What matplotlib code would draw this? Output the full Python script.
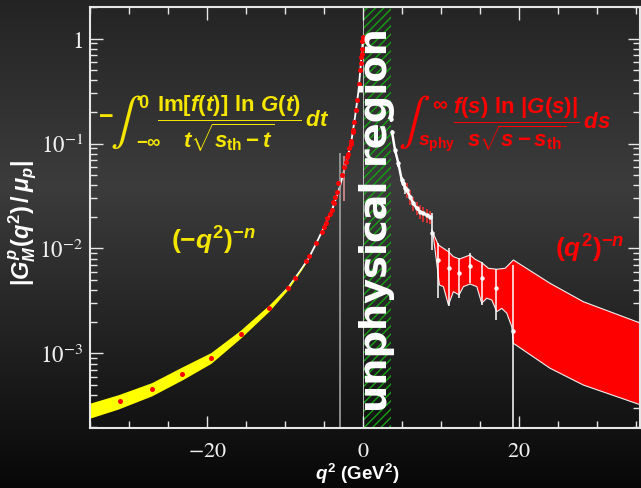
import numpy as np
import matplotlib
matplotlib.use('Agg')
import matplotlib.pyplot as plt

plt.rcParams['mathtext.fontset'] = 'custom'
plt.rcParams['mathtext.rm'] = 'Liberation Sans:bold'
plt.rcParams['mathtext.it'] = 'Liberation Sans:bold:italic'
plt.rcParams['mathtext.bf'] = 'Liberation Sans:bold'
plt.rcParams['mathtext.sf'] = 'Liberation Sans:bold'
plt.rcParams['font.family'] = 'Liberation Sans'
plt.rcParams['hatch.linewidth'] = 1.0

# ---------------- data ----------------
# spacelike fit curve (white line)
fit_q2 = [-35, -31.4, -27.1, -23.2, -19.5, -15.7, -12, -9.6, -8, -7, -6, -5, -4, -3,
          -2.5, -2, -1.5, -1, -0.6, -0.3, 0]
fit_G = [2.85e-4, 3.45e-4, 4.56e-4, 6.45e-4, 9.06e-4, 1.53e-3, 2.73e-3, 4.23e-3, 6.2e-3,
         8.0e-3, 1.12e-2, 1.6e-2, 2.3e-2, 3.8e-2, 5.3e-2, 7.3e-2, 0.105, 0.185, 0.31, 0.55, 1.0]

# spacelike yellow uncertainty band
yb_q2 = [-35, -31.4, -27.1, -23.2, -19.5, -15.7, -12, -9.6, -8, -7]
yb_hi = [3.36e-4, 4.04e-4, 5.27e-4, 7.44e-4, 1.02e-3, 1.67e-3, 2.92e-3, 4.37e-3, 6.29e-3, 8.0e-3]
yb_lo = [2.42e-4, 2.95e-4, 3.94e-4, 5.59e-4, 8.04e-4, 1.40e-3, 2.55e-3, 4.09e-3, 6.11e-3, 8.0e-3]

# spacelike data (red points)
sl_q2 = [-31.2, -27.0, -23.2, -19.5, -15.7, -12.0, -9.6, -8.76, -7.26, -6.97, -5.98, -5.3,
         -5.0, -4.74, -4.65, -4.23, -4.0, -3.81, -3.7, -3.59, -3.38, -3.17, -2.73, -2.44,
         -2.22, -2.09, -1.96, -1.76, -1.58, -1.54, -1.32, -1.24, -1.15, -0.94, -0.77,
         -0.55, -0.38, -0.3, -0.21, -0.17, -0.12, -0.08, -0.05, -0.02]
sl_G = [3.53e-4, 4.62e-4, 6.43e-4, 9.06e-4, 1.53e-3, 2.73e-3, 4.23e-3, 5.27e-3, 7.55e-3,
        8.49e-3, 1.13e-2, 1.43e-2, 1.61e-2, 1.74e-2, 1.94e-2, 2.15e-2, 2.33e-2, 2.79e-2,
        2.71e-2, 3.1e-2, 3.47e-2, 4.18e-2, 5.0e-2, 6.0e-2, 6.6e-2, 7.5e-2, 8.0e-2, 9.0e-2,
        0.105, 0.1, 0.13, 0.135, 0.16, 0.21, 0.26, 0.37, 0.5, 0.58, 0.67, 0.72, 0.8, 0.95,
        0.98, 1.03]

# large-error spacelike points (vertical bars)
eb_q2 = [-2.95, -2.44]
eb_lo = [1.0e-4, 0.0283]
eb_hi = [0.0817, 0.0763]

# timelike data (white points)
tl_q2 = [3.56, 3.72, 4.1, 4.53, 4.96, 5.18, 5.38, 5.6, 6.03, 6.45, 6.88, 7.31, 7.73, 8.17,
         8.59, 8.88, 9.65, 10.96, 12.31, 13.76, 15.26, 17.09, 19.19]
tl_G = [0.17, 0.128, 0.0867, 0.0647, 0.0449, 0.0418, 0.0374, 0.036, 0.0311, 0.0269, 0.0241,
        0.0224, 0.0216, 0.0208, 0.0201, 0.014, 7.77e-3, 6.48e-3, 5.8e-3, 6.81e-3, 5.24e-3,
        4.18e-3, 1.65e-3]
tl_hi = [0.18, 0.135, 0.092, 0.069, 0.048, 0.045, 0.042, 0.042, 0.036, 0.031, 0.028, 0.026,
         0.025, 0.024, 0.023, 0.0217, 0.0112, 0.0100, 8.07e-3, 9.0e-3, 7.48e-3, 6.34e-3, 6.97e-3]
tl_lo = [0.16, 0.121, 0.081, 0.060, 0.042, 0.039, 0.033, 0.030, 0.026, 0.023, 0.021, 0.019,
         0.018, 0.0175, 0.017, 0.0097, 3.35e-3, 2.83e-3, 3.35e-3, 4.72e-3, 2.9e-3, 2.08e-3, 1.0e-4]

# timelike red band
rb_up_q2 = [8.81, 9.66, 10.94, 11.58, 12.35, 13.72, 14.36, 15.21, 16.07, 17.14, 18.21, 19.27,
            23.97, 28.24, 35.6]
rb_up_G = [0.0150, 0.0108, 9.33e-3, 8.36e-3, 7.94e-3, 8.67e-3, 7.89e-3, 7.33e-3, 6.48e-3,
           6.34e-3, 6.48e-3, 7.77e-3, 4.66e-3, 3.11e-3, 1.94e-3]
rb_lo_q2 = [8.81, 9.02, 9.79, 10.3, 10.94, 11.58, 12.31, 12.86, 13.72, 14.58, 15.21, 15.86,
            16.5, 17.14, 17.78, 18.42, 19.06, 19.27, 23.97, 28.24, 35.6]
rb_lo_G = [0.0150, 0.01295, 4.49e-3, 4.33e-3, 2.9e-3, 3.88e-3, 3.61e-3, 4.33e-3, 4.59e-3,
           4.33e-3, 3.01e-3, 3.36e-3, 3.23e-3, 2.5e-3, 2.69e-3, 2.42e-3, 1.8e-3, 1.25e-3,
           7.23e-4, 5.0e-4, 3.23e-4]

unphys = [0.0, 3.52]

xticks = [-20, 0, 20]
xticklabels = [r'$-20$', r'$0$', r'$20$']
yticks = [1e-3, 1e-2, 1e-1, 1]
yticklabels = [r'$10^{-3}$', r'$10^{-2}$', r'$10^{-1}$', r'$1$']

# ---------------- figure ----------------
W, H = 641, 488
fig = plt.figure(figsize=(W / 100, H / 100), dpi=100)


def fpos(px, py):
    return px / W, 1 - py / H


# background gradient
bg = fig.add_axes([0, 0, 1, 1], zorder=-10)
yy = np.linspace(0, 1, 400)  # 0 top -> 1 bottom
prof = np.interp(yy, [0.0, 0.38, 1.0], [0.14, 0.235, 0.03])
img = np.repeat(prof[:, None], 2, axis=1)
bg.imshow(np.dstack([img, img, img]), aspect='auto', extent=[0, 1, 0, 1],
          interpolation='bilinear')
bg.axis('off')

ax_l, ax_r = 90 / W, 640 / W
ax_b, ax_t = 1 - 427.5 / H, 1 - 7 / H
ax = fig.add_axes([ax_l, ax_b, ax_r - ax_l, ax_t - ax_b])
ax.set_facecolor('none')
ax.set_yscale('log')
ax.set_xlim(-35, 35.5)
ax.set_ylim(1.97e-4, 2.0)

# unphysical region
ax.axvspan(unphys[0], unphys[1], facecolor='none', edgecolor='#13a313', hatch='////',
           linewidth=0, zorder=1)
ax.axvline(0, color='#cfcfcf', lw=0.6, zorder=1.5)

# fit (under the band) and yellow band
ax.plot(fit_q2, fit_G, color='white', lw=1.3, zorder=2)
ax.fill_between(yb_q2, yb_lo, yb_hi, color='#ffff00', lw=0, zorder=2.1)

# big error bars
ax.vlines(eb_q2[0], eb_lo[0], eb_hi[0], color='#a0a0a0', lw=1.2, zorder=2.5)
ax.vlines(eb_q2[1], eb_lo[1], eb_hi[1], color='#d89090', lw=1.2, zorder=2.5)

# red spacelike points
ax.plot(sl_q2, sl_G, 'o', color='#ff0000', ms=3.6, mec='none', zorder=4)

# red timelike band
poly_x = list(rb_up_q2) + list(rb_lo_q2[::-1])
poly_y = list(rb_up_G) + list(rb_lo_G[::-1])
ax.fill(poly_x, poly_y, color='#ff0000', lw=0, zorder=2)
ax.plot(rb_up_q2, rb_up_G, color='#f0f0f0', lw=0.8, zorder=2.2)
ax.plot(rb_lo_q2, rb_lo_G, color='#f0f0f0', lw=0.8, zorder=2.2)

# timelike points
tl_q2a = np.array(tl_q2)
tl_Ga = np.array(tl_G)
for q, g, lo, hi in zip(tl_q2, tl_G, tl_lo, tl_hi):
    c = '#ff3030' if 5.5 < q < 8.7 else 'white'
    ax.vlines(q, lo, hi, color=c, lw=1.1, zorder=3)
sel = (tl_q2a > 3.6) & (tl_q2a < 8.7)
ax.plot(tl_q2a[sel], tl_Ga[sel], color='white', lw=1.8, zorder=3.5)
ax.plot(tl_q2, tl_G, 'o', color='white', ms=3.2, mec='none', zorder=4)

# spines and ticks
for s in ax.spines.values():
    s.set_color('#e6e6e6')
    s.set_linewidth(1.5)
ax.tick_params(which='both', direction='in', colors='#e6e6e6', top=True, right=True,
               width=1.0)
ax.tick_params(which='major', length=9)
ax.tick_params(which='minor', length=5)
ax.set_xticks(xticks)
ax.set_xticklabels(xticklabels, math_fontfamily='stix', fontsize=16, color='#f0f0f0')
ax.set_xticks(np.arange(-35, 36, 5), minor=True)
ax.set_yticks(yticks)
ax.set_yticklabels(yticklabels, math_fontfamily='stix', fontsize=16.5, color='#f0f0f0')
ax.yaxis.set_minor_locator(matplotlib.ticker.LogLocator(base=10, subs=np.arange(2, 10)))
ax.yaxis.set_minor_formatter(matplotlib.ticker.NullFormatter())
ax.tick_params(axis='x', which='major', pad=10)
ax.tick_params(axis='y', which='major', pad=5)

# ---- formula annotations ----
yel = '#f5e600'
red = '#ff0000'
# yellow: spacelike dispersion integral
fig.text(*fpos(106, 115), r'$-$', ha='center', va='center', color=yel, fontsize=18)
fig.text(*fpos(126, 122), r'$\int$', ha='center', va='center', color=yel, fontsize=34,
         math_fontfamily='stix')
fig.text(*fpos(144, 103), r'$0$', ha='center', va='center', color=yel, fontsize=13)
fig.text(*fpos(149, 142), r'$-\infty$', ha='center', va='center', color=yel, fontsize=13.5)
fig.text(*fpos(157, 124),
         r'$\dfrac{\mathrm{Im}[f(t)]\ \ln\,G(t)}{t\sqrt{s_{\mathrm{th}}-t}}\,dt$',
         ha='left', va='center', color=yel, fontsize=16)
# red: timelike dispersion integral
fig.text(*fpos(414, 122), r'$\int$', ha='center', va='center', color=red, fontsize=34,
         math_fontfamily='stix')
fig.text(*fpos(440, 104), r'$\infty$', ha='center', va='center', color=red, fontsize=15)
fig.text(*fpos(437, 144), r'$s_{\mathrm{phy}}$', ha='center', va='center', color=red,
         fontsize=14)
fig.text(*fpos(453, 124),
         r'$\dfrac{f(s)\ \ln\,|G(s)|}{s\sqrt{s-s_{\mathrm{th}}}}\,ds$',
         ha='left', va='center', color=red, fontsize=16)

ax.text(0.2236, 0.4435, r'$(-q^2)^{-n}$', transform=ax.transAxes, ha='center', va='center',
        color=yel, fontsize=19, zorder=6)
ax.text(0.909, 0.4245, r'$(q^2)^{-n}$', transform=ax.transAxes, ha='center', va='center',
        color=red, fontsize=19, zorder=6)
ax.text(0.5218, 0.4935, 'unphysical region', transform=ax.transAxes, rotation=90,
        ha='center', va='center', color='white', fontsize=27.5, fontweight='bold',
        family='DejaVu Sans', zorder=6)

fig.text(22 / W, 1 - 223 / H, r'$|G_M^p(q^2)\,/\,\mu_p|$', rotation=90, ha='center',
         va='center', color='white', fontsize=17)
fig.text(357 / W, 1 - 474 / H, r'$q^2$ (GeV$^2$)', ha='center', va='center', color='white',
         fontsize=13.5, fontweight='bold')

fig.savefig('out.png', dpi=100)
